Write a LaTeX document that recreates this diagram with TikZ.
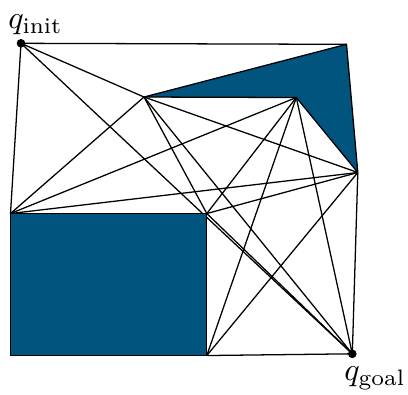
\documentclass[tikz,border=0pt]{standalone}
\usepackage{amsmath}
\definecolor{obst}{RGB}{0,84,125}
\begin{document}
\begin{tikzpicture}[x=0.3125pt,y=-0.3125pt,
  edge/.style={line width=0.4pt},
  obstacle/.style={fill=obst,draw=black,line width=0.4pt,line join=round},
  dot/.style={circle,fill=black,inner sep=0pt,minimum size=2.7pt}]
\useasboundingbox (0,0) rectangle (408,394);
% vertices
\coordinate (I) at (21,43.3);
\coordinate (T) at (346.5,44.3);
\coordinate (A) at (144,97);
\coordinate (B) at (296.3,97.5);
\coordinate (C) at (357.8,172.5);
\coordinate (D) at (10.5,213.5);
\coordinate (E) at (206.8,213.5);
\coordinate (F) at (10.5,355.5);
\coordinate (G) at (206.8,355.5);
\coordinate (Q) at (352.3,353.8);
% visibility graph edges
\draw[edge] (I) -- (T);
\draw[edge] (I) -- (D);
\draw[edge] (I) -- (A);
\draw[edge] (I) -- (Q);
\draw[edge] (A) -- (D);
\draw[edge] (A) -- (E);
\draw[edge] (A) -- (Q);
\draw[edge] (A) -- (C);
\draw[edge] (B) -- (D);
\draw[edge] (B) -- (E);
\draw[edge] (B) -- (G);
\draw[edge] (B) -- (Q);
\draw[edge] (C) -- (D);
\draw[edge] (C) -- (E);
\draw[edge] (C) -- (G);
\draw[edge] (C) -- (Q);
\draw[edge] (E) -- (Q);
\draw[edge] (G) -- (Q);
% obstacles
\draw[obstacle] (A) -- (T) -- (C) -- (B) -- cycle;
\draw[obstacle] (D) -- (E) -- (G) -- (F) -- cycle;
% start and goal
\node[dot] (Idot) at (I) {};
\node[dot] (Qdot) at (Q) {};
\node (Ilabel) at (35.5,25) {$q_{\text{init}}$};
\node (Qlabel) at (375,378) {$q_{\text{goal}}$};
\end{tikzpicture}
\end{document}
